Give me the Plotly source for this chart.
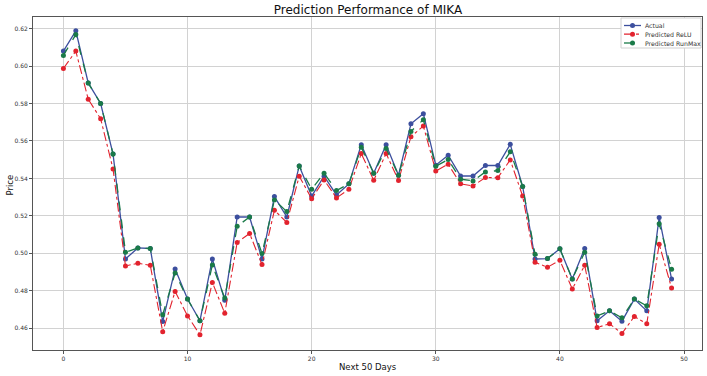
import plotly.graph_objects as go

days = list(range(50))
actual = [0.608, 0.6188, 0.591, 0.580, 0.553, 0.497, 0.5029, 0.5026, 0.4636, 0.4917,
          0.4756, 0.464, 0.497, 0.4749, 0.5194, 0.5194, 0.497, 0.5303, 0.5194, 0.5467,
          0.5306, 0.5412, 0.5312, 0.5371, 0.558, 0.5428, 0.558, 0.5417, 0.5692, 0.5746,
          0.5471, 0.5524, 0.5413, 0.5413, 0.5469, 0.5469, 0.5582, 0.5357, 0.497, 0.4972,
          0.5024, 0.4863, 0.5026, 0.464, 0.4693, 0.4638, 0.4756, 0.4693, 0.5192, 0.4863]
pred_relu = [0.5987, 0.608, 0.5823, 0.5719, 0.545, 0.4933, 0.4947, 0.4936, 0.4582, 0.4797,
             0.4666, 0.4565, 0.4845, 0.468, 0.5058, 0.5106, 0.494, 0.523, 0.5165, 0.5412,
             0.5292, 0.5392, 0.5296, 0.5342, 0.5533, 0.539, 0.5533, 0.5389, 0.5623, 0.568,
             0.544, 0.5476, 0.5371, 0.536, 0.5405, 0.5404, 0.5499, 0.5306, 0.4952, 0.4926,
             0.4963, 0.481, 0.4936, 0.4604, 0.4624, 0.4572, 0.4663, 0.4624, 0.5049, 0.4815]
pred_runmax = [0.6057, 0.6168, 0.591, 0.580, 0.553, 0.5006, 0.5029, 0.5026, 0.4672, 0.4895,
               0.4756, 0.464, 0.4938, 0.4761, 0.5145, 0.5194, 0.4999, 0.5285, 0.5223, 0.5467,
               0.5342, 0.5428, 0.5335, 0.5371, 0.5566, 0.5428, 0.556, 0.5417, 0.5651, 0.5714,
               0.5465, 0.5501, 0.5396, 0.5387, 0.5435, 0.5442, 0.5542, 0.5357, 0.4995, 0.4972,
               0.5024, 0.4863, 0.5006, 0.4666, 0.4693, 0.4656, 0.4756, 0.472, 0.5158, 0.4915]
y_ticks = [0.46, 0.48, 0.50, 0.52, 0.54, 0.56, 0.58, 0.60, 0.62]
x_ticks = [0, 10, 20, 30, 40, 50]
series_names = ["Actual", "Predicted ReLU", "Predicted RunMax"]
series_colors = ["#3c4f9e", "#e2232e", "#1a7a48"]
series_dash = ["solid", "dashdot", "dash"]

W, H = 707, 376
ML, MR, MT, MB = 33, 5, 17, 26
PW, PH = W - ML - MR, H - MT - MB


def px_x(p):
    return (p - ML) / PW


def px_y(p):
    return (H - MB - p) / PH


fig = go.Figure()
for name, vals, col, dash, lw in zip(series_names, [actual, pred_relu, pred_runmax],
                                      series_colors, series_dash, [1.3, 1.1, 1.3]):
    fig.add_trace(go.Scatter(x=days, y=vals, name=name, mode="lines+markers",
                             line=dict(color=col, width=lw, dash=dash),
                             marker=dict(size=5, color=col), showlegend=False))

# compact legend drawn with shapes/annotations
shapes = [dict(type="rect", xref="paper", yref="paper",
               x0=px_x(621), x1=px_x(701), y0=px_y(48), y1=px_y(18),
               line=dict(color="#d0d0d0", width=1), fillcolor="white", layer="above")]
annotations = []
rows = [25.5, 34.2, 43.0]
for name, col, dash, ry in zip(series_names, series_colors, series_dash, rows):
    shapes.append(dict(type="line", xref="paper", yref="paper",
                       x0=px_x(624), x1=px_x(641), y0=px_y(ry), y1=px_y(ry),
                       line=dict(color=col, width=1.3, dash=dash), layer="above"))
    shapes.append(dict(type="circle", xref="paper", yref="paper",
                       xsizemode="pixel", ysizemode="pixel",
                       xanchor=px_x(632.5), yanchor=px_y(ry),
                       x0=-2.5, x1=2.5, y0=-2.5, y1=2.5,
                       fillcolor=col, line=dict(color=col, width=0), layer="above"))
    annotations.append(dict(text=name, xref="paper", yref="paper",
                            x=px_x(643), y=px_y(ry), xanchor="left", yanchor="middle",
                            showarrow=False,
                            font=dict(family="DejaVu Sans", size=6.2, color="#333333")))

annotations.append(dict(text="Next 50 Days", xref="paper", yref="paper",
                        x=0.5, y=px_y(367), xanchor="center", yanchor="middle",
                        showarrow=False,
                        font=dict(family="DejaVu Sans", size=8.5, color="#111111")))
annotations.append(dict(text="Price", xref="paper", yref="paper",
                        x=px_x(9.5), y=px_y(185), xanchor="center", yanchor="middle",
                        showarrow=False, textangle=-90,
                        font=dict(family="DejaVu Sans", size=8.5, color="#111111")))

axis_font = dict(family="DejaVu Sans", size=6, color="#333333")
fig.update_layout(
    width=W, height=H,
    margin=dict(l=ML, r=MR, t=MT, b=MB, autoexpand=False),
    paper_bgcolor="white", plot_bgcolor="white",
    title=dict(text="Prediction Performance of MIKA", x=368 / W, xanchor="center",
               y=1 - 10 / H, yanchor="middle", yref="container",
               font=dict(family="DejaVu Sans", size=12, color="#111111")),
    font=dict(family="DejaVu Sans"),
    showlegend=False,
    shapes=shapes,
    annotations=annotations,
)
fig.update_xaxes(range=[-2.45, 51.45], tickvals=x_ticks, tickfont=axis_font,
                 showgrid=True, gridcolor="#d2d2d2", gridwidth=0.8,
                 showline=True, linecolor="#555555", linewidth=1, mirror=True,
                 zeroline=False, ticks="outside", ticklen=3, tickcolor="#555555",
                 automargin=False)
fig.update_yaxes(range=[0.4484, 0.6262], tickvals=y_ticks, tickformat=".2f", tickfont=axis_font,
                 showgrid=True, gridcolor="#d2d2d2", gridwidth=0.8,
                 showline=True, linecolor="#555555", linewidth=1, mirror=True,
                 zeroline=False, ticks="outside", ticklen=3, tickcolor="#555555",
                 automargin=False)

fig.write_html("out.html", config={"displayModeBar": False},
               post_script="document.body.style.margin='0';document.body.style.overflow='hidden';")
